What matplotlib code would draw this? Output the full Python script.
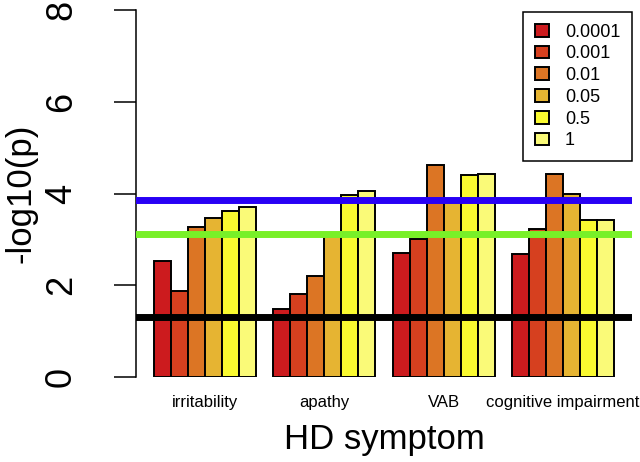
import matplotlib
matplotlib.use("Agg")
import matplotlib.pyplot as plt

plt.rcParams['font.family'] = ['Liberation Sans', 'DejaVu Sans']

symptoms = ["irritability", "apathy", "VAB", "cognitive impairment"]
thresholds = ["0.0001", "0.001", "0.01", "0.05", "0.5", "1"]

# -log10(p) per symptom, one value per threshold
irritability = [2.54, 1.87, 3.27, 3.47, 3.62, 3.71]
apathy = [1.48, 1.80, 2.21, 3.10, 3.97, 4.05]
vab = [2.71, 3.01, 4.63, 3.88, 4.40, 4.42]
cognitive = [2.68, 3.22, 4.43, 4.00, 3.42, 3.43]
values = [irritability, apathy, vab, cognitive]

# significance lines
sig_black = 1.30
sig_green = 3.12
sig_blue = 3.87

cols = ["#CC1B1E", "#D6401F", "#DC7524", "#E6B432", "#FAFA30", "#FAFA78"]

fig = plt.figure(figsize=(6.4, 4.62), dpi=100)
ax = fig.add_axes([0.2125, 0.184, 0.775, 0.794])

# R style beside barplot: space 1 between groups, 0 between bars
for j, th in enumerate(thresholds):
    xs = [g * 7 + 1 + j for g in range(len(symptoms))]
    hs = [values[g][j] for g in range(len(symptoms))]
    ax.bar(xs, hs, width=1, align='edge', color=cols[j], edgecolor='black',
           linewidth=1.4, label=th, zorder=2)

ax.axhline(sig_blue, color="#2800F5", lw=5, zorder=3)
ax.axhline(sig_green, color="#78F028", lw=5, zorder=3)
ax.axhline(sig_black, color="black", lw=5, zorder=3)

ax.set_xlim(-0.08, 29.08)
ax.set_ylim(0, 8)

for s in ['top', 'right', 'bottom']:
    ax.spines[s].set_visible(False)
ax.spines['left'].set_linewidth(1.1)

ax.set_yticks([0, 2, 4, 6, 8])
ax.tick_params(axis='y', length=16, width=1.1, pad=25, labelsize=26)
for t in ax.get_yticklabels():
    t.set_rotation(90)
    t.set_va('center')

ax.set_xticks([g * 7 + 4 for g in range(len(symptoms))])
ax.set_xticklabels(symptoms, fontsize=12)
ax.tick_params(axis='x', length=0, pad=13)

ax.set_xlabel("HD symptom", fontsize=25)
ax.xaxis.set_label_coords(0.5, -0.125)
ax.set_ylabel("-log10(p)", fontsize=25)
ax.yaxis.set_label_coords(-0.198, 0.5)

leg = ax.legend(loc='upper right', bbox_to_anchor=(1.0, 0.995), fontsize=13,
                fancybox=False, edgecolor='black', framealpha=1,
                handlelength=0.75, handleheight=0.7, handletextpad=0.9,
                labelspacing=0.26, borderpad=0.65, borderaxespad=0)
leg.get_frame().set_linewidth(1.1)

fig.savefig("out.png", dpi=100)
